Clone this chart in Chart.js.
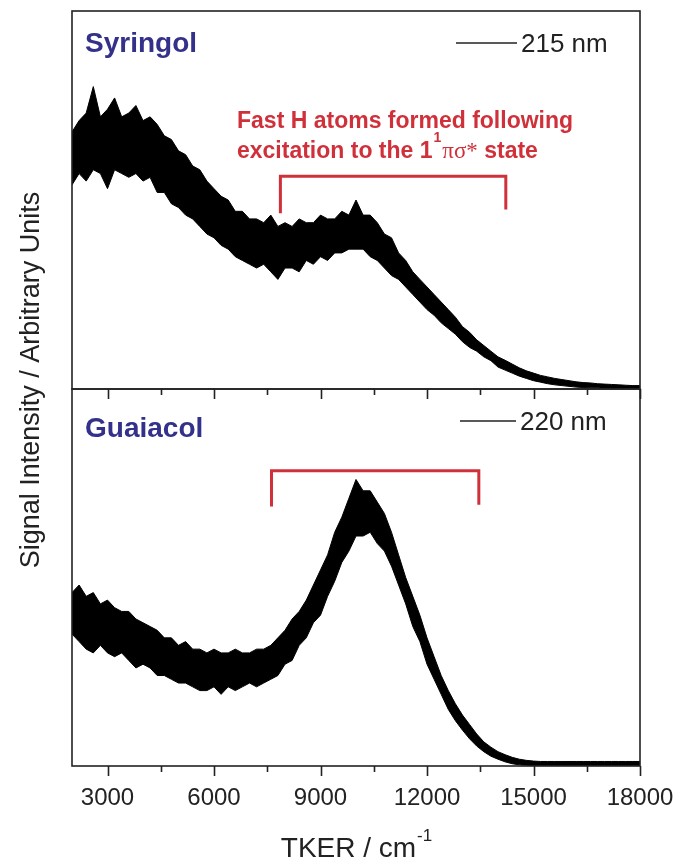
<!DOCTYPE html>
<html>
<head>
<meta charset="utf-8">
<script src="https://cdn.jsdelivr.net/npm/chart.js"></script>
<style>
  html, body { margin: 0; padding: 0; background: #fff; }
  #wrap { position: relative; width: 681px; height: 867px; }
  #wrap canvas { position: absolute; left: 0; top: 0; }
</style>
</head>
<body>
<div id="wrap">
  <canvas id="syr" width="681" height="867"></canvas>
  <canvas id="gua" width="681" height="867"></canvas>
</div>
<script>
// TKER grid (cm-1) the traces were read at
const tker = [
  2000, 2200, 2400, 2600, 2800, 3000, 3200, 3400, 3600, 3800,
  4000, 4200, 4400, 4600, 4800, 5000, 5200, 5400, 5600, 5800,
  6000, 6200, 6400, 6600, 6800, 7000, 7200, 7400, 7600, 7800,
  8000, 8200, 8400, 8600, 8800, 9000, 9200, 9400, 9600, 9800,
  10000, 10200, 10400, 10600, 10800, 11000, 11200, 11400, 11600, 11800,
  12000, 12200, 12400, 12600, 12800, 13000, 13200, 13400, 13600, 13800,
  14000, 14200, 14400, 14600, 14800, 15000, 15200, 15400, 15600, 15800,
  16000, 16200, 16400, 16600, 16800, 17000, 17200, 17400, 17600, 17800,
  18000
];

// noisy trace = band between its upper and lower edge (arbitrary units, 0-100)
const syrUpper = [
  68, 71, 73, 80, 72, 74, 77, 72, 73, 75,
  71, 72, 70, 67, 66, 63, 62, 59, 58, 55,
  53, 51, 50, 47, 47, 45, 45, 44, 46, 43,
  44, 43, 45, 44, 44, 46, 45, 45, 47, 46,
  50, 46, 46, 44, 41, 40, 36, 34, 31, 29,
  27, 25, 23, 21, 19, 16.5, 15, 13, 11.5, 10,
  8.5, 7.6, 6.6, 5.6, 4.8, 4.2, 3.6, 3.2, 2.8, 2.5,
  2.2, 1.9, 1.7, 1.6, 1.4, 1.3, 1.2, 1.1, 1.0, 0.9,
  0.9
];
const syrLower = [
  54, 57, 55, 58, 57, 53, 58, 57, 56, 57,
  55, 56, 52, 52, 49, 48, 46, 45, 43, 41,
  40, 38, 37, 35, 34, 33, 32, 33, 31, 29,
  32, 32, 31, 34, 33, 35, 34, 36, 36, 37,
  37, 37, 35, 34, 32, 30, 29, 27, 25, 23,
  21, 19.5, 17.5, 16, 14.5, 12.5, 11, 10, 8.5, 7.5,
  5.8, 5.0, 4.2, 3.4, 2.8, 2.2, 1.8, 1.4, 1.1, 0.9,
  0.7, 0.5, 0.4, 0.3, 0.3, 0.2, 0.2, 0.1, 0.1, 0.1,
  0.1
];
const guaUpper = [
  46, 48, 45, 46, 43, 44, 42, 41, 41, 39,
  38, 37, 36, 34, 34, 32, 33, 31, 31, 30,
  31, 30, 30, 31, 30, 30, 31, 31, 32, 34,
  36, 39, 41, 44, 48, 52, 56, 62, 66, 71,
  76, 73, 73, 70, 67, 62, 56, 50, 45, 40,
  34, 29, 24, 20, 16.5, 13.5, 11, 8.5, 6.4, 5.0,
  3.8, 3.0, 2.3, 1.8, 1.5, 1.3, 1.2, 1.2, 1.2, 1.2,
  1.2, 1.2, 1.2, 1.2, 1.2, 1.2, 1.2, 1.2, 1.2, 1.2,
  1.2
];
const guaLower = [
  35, 33, 31, 30, 32, 30, 29, 30, 28, 26,
  27, 26, 24, 24, 23, 22, 22, 21, 20, 20,
  21, 19, 21, 20, 21, 22, 21, 22, 23, 24,
  27, 28, 32, 34, 38, 40, 45, 49, 54, 57,
  61, 61, 62, 59, 57, 53, 48, 43, 37, 33,
  27, 23, 19, 15, 12, 9.5, 7.2, 5.3, 3.8, 2.6,
  1.8, 1.1, 0.6, 0.3, 0.2, 0.1, 0.1, 0.1, 0.1, 0.1,
  0.1, 0.1, 0.1, 0.1, 0.1, 0.1, 0.1, 0.1, 0.1, 0.1,
  0.1
];

// red brackets marking the fast H atom region
const syrBracketX = [7870, 7870, 14220, 14220];
const syrBracketY = [46.5, 56.3, 56.3, 47.5];
const guaBracketX = [7620, 7620, 13460, 13460];
const guaBracketY = [68.8, 78.3, 78.3, 69.3];

const xMajor = [3000, 6000, 9000, 12000, 15000, 18000];
const xMinor = [4500, 7500, 10500, 13500, 16500];

const INK = '#222';
const RED = '#d0303a';
const NAVY = '#34318a';
const SANS = '"Liberation Sans", Arial, sans-serif';

function pts(xs, ys) {
  return xs.map((x, i) => ({x: x, y: ys[i]}));
}

function say(ctx, txt, x, y, font, color, align) {
  ctx.font = font;
  ctx.fillStyle = color;
  ctx.textAlign = align || 'left';
  ctx.textBaseline = 'alphabetic';
  ctx.fillText(txt, x, y);
  return ctx.measureText(txt).width;
}

// frame + tick marks (ticks point down, out of each panel)
const frame = {
  id: 'frame',
  afterDraw(chart) {
    const ctx = chart.ctx, a = chart.chartArea, x = chart.scales.x;
    ctx.save();
    ctx.strokeStyle = INK;
    ctx.lineWidth = 1.6;
    ctx.strokeRect(a.left, a.top, a.right - a.left, a.bottom - a.top);
    ctx.beginPath();
    xMajor.forEach(v => {
      const px = Math.round(x.getPixelForValue(v)) + 0.5;
      ctx.moveTo(px, a.bottom); ctx.lineTo(px, a.bottom + 10);
    });
    xMinor.forEach(v => {
      const px = Math.round(x.getPixelForValue(v)) + 0.5;
      ctx.moveTo(px, a.bottom); ctx.lineTo(px, a.bottom + 6);
    });
    ctx.stroke();
    ctx.restore();
  }
};

const syrText = {
  id: 'syrText',
  afterDraw(chart) {
    const ctx = chart.ctx;
    ctx.save();
    say(ctx, 'Syringol', 85, 52, 'bold 28px ' + SANS, NAVY);
    ctx.strokeStyle = INK; ctx.lineWidth = 1.5;
    ctx.beginPath(); ctx.moveTo(456, 43); ctx.lineTo(517, 43); ctx.stroke();
    say(ctx, '215 nm', 521, 52, '26px ' + SANS, INK);

    say(ctx, 'Fast H atoms formed following', 237, 128, 'bold 23px ' + SANS, RED);
    let w = say(ctx, 'excitation to the 1', 237, 158, 'bold 23px ' + SANS, RED);
    let cx = 237 + w + 1;
    w = say(ctx, '1', cx, 142, 'bold 14px ' + SANS, RED);
    cx += w + 1;
    w = say(ctx, 'πσ*', cx, 158, '23px "Liberation Serif", serif', RED);
    cx += w;
    say(ctx, ' state', cx, 158, 'bold 23px ' + SANS, RED);

    // shared y axis title
    ctx.translate(30, 380);
    ctx.rotate(-Math.PI / 2);
    say(ctx, 'Signal Intensity / Arbitrary Units', 0, 9, '27px ' + SANS, INK, 'center');
    ctx.restore();
  }
};

const guaText = {
  id: 'guaText',
  afterDraw(chart) {
    const ctx = chart.ctx;
    ctx.save();
    say(ctx, 'Guaiacol', 85, 437, 'bold 28px ' + SANS, NAVY);
    ctx.strokeStyle = INK; ctx.lineWidth = 1.5;
    ctx.beginPath(); ctx.moveTo(460, 421); ctx.lineTo(516, 421); ctx.stroke();
    say(ctx, '220 nm', 520, 430, '26px ' + SANS, INK);

    // x axis title with superscript
    const main = 'TKER / cm';
    ctx.font = '28px ' + SANS;
    const mw = ctx.measureText(main).width;
    ctx.font = '17px ' + SANS;
    const sw = ctx.measureText('-1').width;
    const left = 356 - (mw + sw) / 2;
    say(ctx, main, left, 857, '28px ' + SANS, INK);
    say(ctx, '-1', left + mw + 1, 841, '17px ' + SANS, INK);
    ctx.restore();
  }
};

function panel(id, upper, lower, bx, by, padding, showLabels, textPlugin) {
  return new Chart(document.getElementById(id), {
    type: 'line',
    data: {
      datasets: [
        { data: pts(bx, by), borderColor: RED, borderWidth: 3, pointRadius: 0,
          fill: false, tension: 0, borderJoinStyle: 'miter' },
        { data: pts(tker, upper), borderColor: '#000', borderWidth: 1,
          pointRadius: 0, fill: false, tension: 0 },
        { data: pts(tker, lower), borderColor: '#000', borderWidth: 1,
          pointRadius: 0, fill: '-1', backgroundColor: '#000', tension: 0 }
      ]
    },
    options: {
      responsive: false,
      animation: false,
      devicePixelRatio: 1,
      layout: { padding: padding },
      plugins: { legend: { display: false }, tooltip: { enabled: false } },
      scales: {
        x: {
          type: 'linear', min: 2000, max: 18000,
          display: showLabels,
          afterBuildTicks: axis => { axis.ticks = xMajor.map(v => ({value: v})); },
          afterFit: axis => {
            if (!showLabels) return;
            axis.height = 101;
            axis.paddingLeft = 0;
            axis.paddingRight = 0;
          },
          grid: { display: false },
          border: { display: false },
          ticks: { color: INK, padding: 10, maxRotation: 0,
                   callback: v => String(v),
                   font: { family: SANS, size: 24 } }
        },
        y: { type: 'linear', min: 0, max: 100, display: false }
      }
    },
    plugins: [frame, textPlugin]
  });
}

panel('syr', syrUpper, syrLower, syrBracketX, syrBracketY,
      { left: 72, right: 41, top: 11, bottom: 478 }, false, syrText);
panel('gua', guaUpper, guaLower, guaBracketX, guaBracketY,
      { left: 72, right: 41, top: 389, bottom: 0 }, true, guaText);
</script>
</body>
</html>
